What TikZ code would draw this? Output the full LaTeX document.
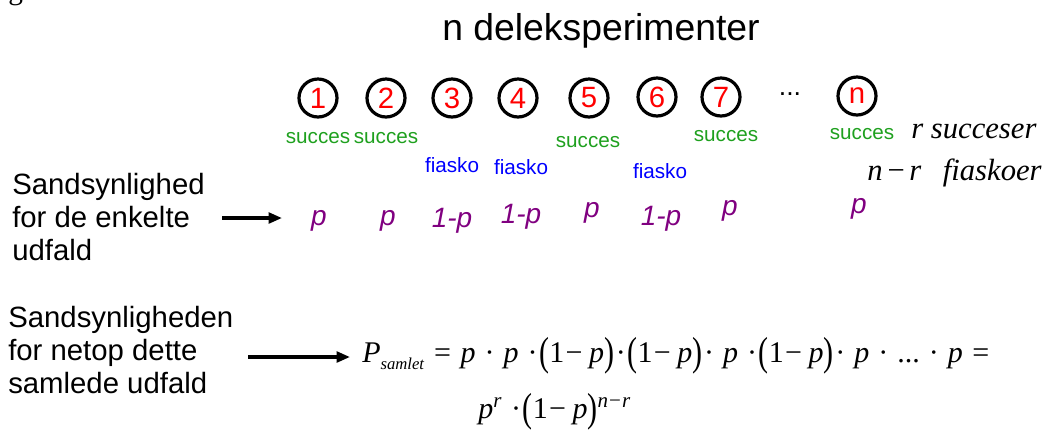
\documentclass[tikz,border=0pt]{standalone}
\usepackage{fontspec}
\usepackage{graphicx}
\setmainfont{Liberation Sans}
\newfontfamily\tms{Liberation Serif}
\usetikzlibrary{arrows.meta}
\definecolor{sgreen}{RGB}{30,160,30}
\definecolor{fblue}{RGB}{0,0,255}
\definecolor{ppurple}{RGB}{128,0,128}
\newcommand\vi[1]{\textit{#1}}
\newcommand\lpar{\raisebox{-0.12em}{\scalebox{1}[1.35]{(}}}
\newcommand\rpar{\raisebox{-0.12em}{\scalebox{1}[1.35]{)}}}
\newcommand\sd{\hspace{0.3em}·\hspace{0.3em}}
\newcommand\ld{\hspace{0.3em}·\hspace{0.06em}}
\newcommand\rd{\hspace{0.06em}·\hspace{0.3em}}
\newcommand\bd{\hspace{0.06em}·\hspace{0.06em}}
\newcommand\eqs{\hspace{0.32em}=\hspace{0.32em}}
\newcommand\mns{\hspace{0.04em}−\hspace{0.22em}}
\newcommand\onemp{\lpar 1\mns\vi{p}\rpar}
\tikzset{
  x=0.75pt, y=-0.75pt,
  circ/.style={circle, draw=black, line width=2.4pt, minimum size=28.5pt, inner sep=0pt,
    text=red, font=\fontsize{22}{24}\selectfont},
  suc/.style={anchor=base, text=sgreen, inner sep=0pt, font=\fontsize{15.5}{18}\selectfont},
  fia/.style={anchor=base, text=fblue, inner sep=0pt, font=\fontsize{15.5}{18}\selectfont},
  prob/.style={anchor=base, text=ppurple, inner sep=0pt, font=\fontsize{21}{24}\selectfont\itshape},
  lbl/.style={anchor=base west, inner sep=0pt, font=\fontsize{22}{26}\selectfont},
  tim/.style={anchor=base west, inner sep=0pt, font=\tms\fontsize{23}{26}\selectfont\itshape},
  frm/.style={anchor=base west, inner sep=0pt, font=\tms\fontsize{22.5}{26}\selectfont},
  arr/.style={line width=2.4pt, -{Triangle[length=10pt,width=8pt]}},
}
\begin{document}
\begin{tikzpicture}
\useasboundingbox (0,0) rectangle (1049,430);
% cut-off glyph at the top-left corner
\node[anchor=base west, inner sep=0pt, font=\tms\fontsize{22}{24}\selectfont] (g) at (8,-1) {g};
% title
\node[anchor=base, inner sep=0pt, font=\fontsize{28}{32}\selectfont] (title) at (601,40) {n deleksperimenter};
% circles
\node[circ] (c1) at (318,98) {1};
\node[circ] (c2) at (386,98) {2};
\node[circ] (c3) at (452,98) {3};
\node[circ] (c4) at (518,98) {4};
\node[circ] (c5) at (589,98) {5};
\node[circ] (c6) at (657,97) {6};
\node[circ] (c7) at (721,97) {7};
\node[inner sep=0pt, font=\fontsize{20}{22}\selectfont] (dots) at (790,94) {...};
\node[circ] (cn) at (857,96) {n};
% outcomes
\node[suc] (s1) at (318,143) {succes};
\node[suc] (s2) at (386,143) {succes};
\node[fia] (f3) at (452,172) {fiasko};
\node[fia] (f4) at (521,174) {fiasko};
\node[suc] (s5) at (588,147) {succes};
\node[fia] (f6) at (660,178) {fiasko};
\node[suc] (s7) at (726,141) {succes};
\node[suc] (sn) at (862,139) {succes};
\node[tim] (rs) at (911,138) {r succeser};
\node[tim] (nrf) at (867,180) {n\hspace{0.1em}−\hspace{0.1em}r\hspace{0.45em} fiaskoer};
% probabilities
\node[prob] (p1) at (319,225) {p};
\node[prob] (p2) at (388,225) {p};
\node[prob] (p3) at (452,227) {1-p};
\node[prob] (p4) at (521,223) {1-p};
\node[prob] (p5) at (592,217) {p};
\node[prob] (p6) at (661,225) {1-p};
\node[prob] (p7) at (730,215) {p};
\node[prob] (pn) at (859,213) {p};
% left labels
\node[lbl] (l1a) at (12,194) {Sandsynlighed};
\node[lbl] (l1b) at (12,227) {for de enkelte};
\node[lbl] (l1c) at (12,260) {udfald};
\node[lbl] (l2a) at (8,327) {Sandsynligheden};
\node[lbl] (l2b) at (8,360) {for netop dette};
\node[lbl] (l2c) at (8,393) {samlede udfald};
% arrows
\coordinate (a1s) at (222,218);
\coordinate (a1e) at (282,218);
\draw[arr] (a1s) -- (a1e);
\coordinate (a2s) at (248,357);
\coordinate (a2e) at (350,357);
\draw[arr] (a2s) -- (a2e);
% formula
\node[frm] (f1) at (362,362) {\vi{P}\raisebox{-0.25em}{\fontsize{12.5}{14}\selectfont\vi{samlet}}\eqs\vi{p}\sd\vi{p}\ld\onemp\bd\onemp\rd\vi{p}\ld\onemp\rd\vi{p}\sd...\sd\vi{p}\eqs};
\node[frm] (f2) at (478,418) {\vi{p}\textsuperscript{\vi{r}}\ld\onemp\textsuperscript{\vi{n}\hspace{0.05em}−\hspace{0.05em}\vi{r}}};
\end{tikzpicture}
\end{document}
